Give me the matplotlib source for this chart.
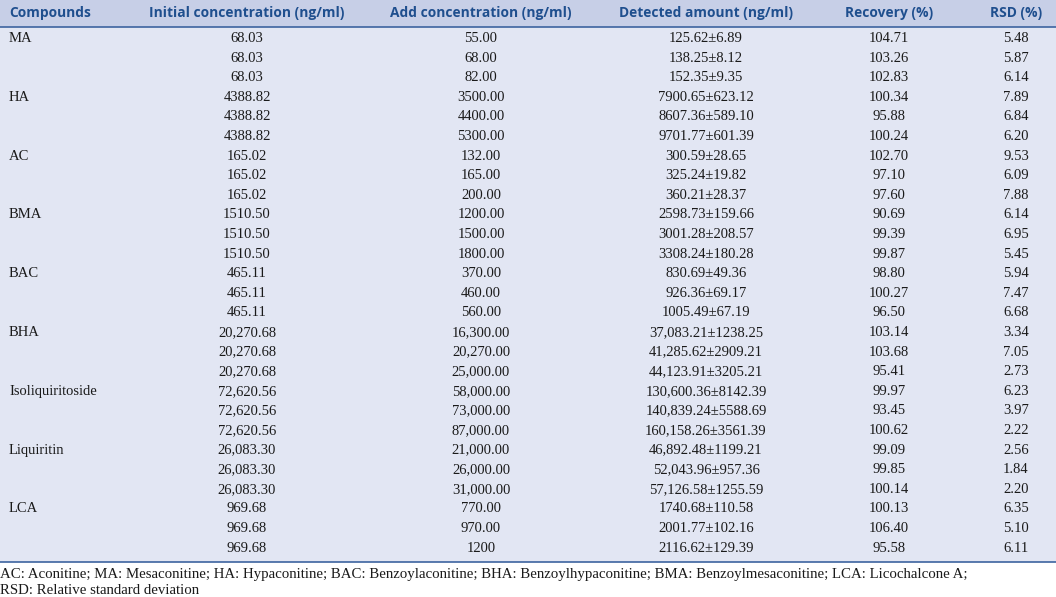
import matplotlib.pyplot as plt
from matplotlib.patches import Rectangle

headers = ["Compounds", "Initial concentration (ng/ml)", "Add concentration (ng/ml)",
           "Detected amount (ng/ml)", "Recovery (%)", "RSD (%)"]
compounds = ["MA", "HA", "AC", "BMA", "BAC", "BHA", "Isoliquiritoside", "Liquiritin", "LCA"]
initial = ["68.03", "4388.82", "165.02", "1510.50", "465.11", "20,270.68",
           "72,620.56", "26,083.30", "969.68"]
added = ["55.00", "68.00", "82.00",
         "3500.00", "4400.00", "5300.00",
         "132.00", "165.00", "200.00",
         "1200.00", "1500.00", "1800.00",
         "370.00", "460.00", "560.00",
         "16,300.00", "20,270.00", "25,000.00",
         "58,000.00", "73,000.00", "87,000.00",
         "21,000.00", "26,000.00", "31,000.00",
         "770.00", "970.00", "1200"]
detected = ["125.62±6.89", "138.25±8.12", "152.35±9.35",
            "7900.65±623.12", "8607.36±589.10", "9701.77±601.39",
            "300.59±28.65", "325.24±19.82", "360.21±28.37",
            "2598.73±159.66", "3001.28±208.57", "3308.24±180.28",
            "830.69±49.36", "926.36±69.17", "1005.49±67.19",
            "37,083.21±1238.25", "41,285.62±2909.21", "44,123.91±3205.21",
            "130,600.36±8142.39", "140,839.24±5588.69", "160,158.26±3561.39",
            "46,892.48±1199.21", "52,043.96±957.36", "57,126.58±1255.59",
            "1740.68±110.58", "2001.77±102.16", "2116.62±129.39"]
recovery = ["104.71", "103.26", "102.83", "100.34", "95.88", "100.24",
            "102.70", "97.10", "97.60", "90.69", "99.39", "99.87",
            "98.80", "100.27", "96.50", "103.14", "103.68", "95.41",
            "99.97", "93.45", "100.62", "99.09", "99.85", "100.14",
            "100.13", "106.40", "95.58"]
rsd = ["5.48", "5.87", "6.14", "7.89", "6.84", "6.20",
       "9.53", "6.09", "7.88", "6.14", "6.95", "5.45",
       "5.94", "7.47", "6.68", "3.34", "7.05", "2.73",
       "6.23", "3.97", "2.22", "2.56", "1.84", "2.20",
       "6.35", "5.10", "6.11"]
footnote = ["AC: Aconitine; MA: Mesaconitine; HA: Hypaconitine; BAC: Benzoylaconitine; "
            "BHA: Benzoylhypaconitine; BMA: Benzoylmesaconitine; LCA: Licochalcone A;",
            "RSD: Relative standard deviation"]

W, H = 1056, 597
fig = plt.figure(figsize=(W / 100, H / 100), dpi=100)
ax = fig.add_axes([0, 0, 1, 1])
ax.set_xlim(0, W)
ax.set_ylim(H, 0)
ax.axis("off")

head_bg = "#c7cfe7"
body_bg = "#e2e6f3"
blue = "#1f4f8e"
line_c = "#3d64a0"

ax.add_patch(Rectangle((0, 0), W, 26.5, color=head_bg, lw=0))
ax.add_patch(Rectangle((0, 26.5), W, 535, color=body_bg, lw=0))
ax.plot([0, W], [26.5, 26.5], color=line_c, lw=1.2)
ax.plot([0, W], [561.5, 561.5], color=line_c, lw=1.2)

col_x = [9, 247, 481, 706, 889, 1016]
hfont = dict(family="Open Sans", fontweight="bold", fontsize=9.9, color=blue, va="center")
bfont = dict(family="Liberation Serif", fontsize=10.5, color="#1a1a1a", va="center")

for i, h in enumerate(headers):
    ax.text(col_x[i], 13.5, h, ha="left" if i == 0 else "center", **hfont)

y0, dy = 38.5, 19.6
for r in range(len(added)):
    y = y0 + r * dy
    if r % 3 == 0:
        ax.text(col_x[0], y, compounds[r // 3], ha="left", **bfont)
    ax.text(col_x[1], y, initial[r // 3], ha="center", **bfont)
    ax.text(col_x[2], y, added[r], ha="center", **bfont)
    ax.text(col_x[3], y, detected[r], ha="center", **bfont)
    ax.text(col_x[4], y, recovery[r], ha="center", **bfont)
    ax.text(col_x[5], y, rsd[r], ha="center", **bfont)

fnfont = dict(bfont, fontsize=10.7)
for k, line in enumerate(footnote):
    ax.text(0.5, 574.5 + k * 15.5, line, ha="left", **fnfont)

fig.savefig("out.png", dpi=100)
